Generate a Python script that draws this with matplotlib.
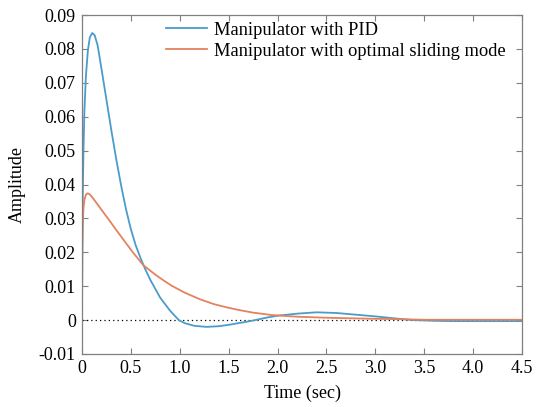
import matplotlib
matplotlib.use("Agg")
import matplotlib.pyplot as plt

plt.rcParams['font.family'] = ['Liberation Serif', 'DejaVu Serif']

# time samples (sec) and amplitudes
t_pid = [0, 0.003, 0.008, 0.015, 0.025, 0.04, 0.06, 0.08, 0.105, 0.13, 0.16, 0.2,
         0.25, 0.3, 0.35, 0.4, 0.45, 0.5, 0.55, 0.6, 0.65, 0.7, 0.8, 0.9, 0.99, 1.05,
         1.15, 1.275, 1.4, 1.5, 1.6, 1.7, 1.77, 1.9, 2.0, 2.2, 2.4, 2.6, 2.8, 3.0,
         3.2, 3.39, 3.6, 3.8, 4.0, 4.25, 4.5]
y_pid = [0, 0.02, 0.037, 0.05, 0.062, 0.072, 0.0795, 0.0834, 0.0847, 0.0840, 0.0810,
         0.0740, 0.0650, 0.0560, 0.0475, 0.0397, 0.0327, 0.0268, 0.0220, 0.0182,
         0.0148, 0.0118, 0.0066, 0.0028, 0.0, -0.0009, -0.0017, -0.0020, -0.0018,
         -0.0014, -0.0009, -0.0004, 0.0, 0.0008, 0.0013, 0.0019, 0.0023, 0.0021,
         0.0016, 0.0011, 0.0005, 0.0, -0.0002, -0.0003, -0.0003, -0.0003, -0.0003]

t_smc = [0, 0.003, 0.008, 0.015, 0.025, 0.04, 0.058, 0.075, 0.1, 0.15, 0.2, 0.27,
         0.35, 0.45, 0.52, 0.627, 0.75, 0.85, 0.92, 1.05, 1.21, 1.35, 1.46, 1.6,
         1.75, 1.94, 2.2, 2.5, 2.95, 3.2, 3.5, 3.8, 4.1, 4.5]
y_smc = [0, 0.02, 0.028, 0.033, 0.0355, 0.0370, 0.0374, 0.0372, 0.0364, 0.0345,
         0.0325, 0.0298, 0.0266, 0.0227, 0.0200, 0.0162, 0.0134, 0.0114, 0.0101,
         0.0081, 0.0061, 0.0047, 0.0039, 0.0030, 0.0022, 0.0015, 0.0010, 0.0007,
         0.0004, 0.0003, 0.0001, 0.0001, 0.0001, 0.0001]

xticks = [0, 0.5, 1.0, 1.5, 2.0, 2.5, 3.0, 3.5, 4.0, 4.5]
xticklabels = ['0', '0.5', '1.0', '1.5', '2.0', '2.5', '3.0', '3.5', '4.0', '4.5']
yticks = [-0.01, 0, 0.01, 0.02, 0.03, 0.04, 0.05, 0.06, 0.07, 0.08, 0.09]
yticklabels = ['-0.01', '0', '0.01', '0.02', '0.03', '0.04', '0.05', '0.06', '0.07',
               '0.08', '0.09']

fig = plt.figure(figsize=(5.37, 4.07), dpi=100)
ax = fig.add_axes([82/537, 53/407, 440/537, 339/407])

ax.plot([0, 4.5], [0, 0], color='black', linestyle=(0, (1, 2.5)), linewidth=0.9)
ax.plot(t_pid, y_pid, color='#4a9ccb', linewidth=1.3, label='Manipulator with PID')
ax.plot(t_smc, y_smc, color='#e3825f', linewidth=1.3,
        label='Manipulator with optimal sliding mode')

ax.set_xlim(0, 4.5)
ax.set_ylim(-0.01, 0.09)
ax.set_xticks(xticks)
ax.set_xticklabels(xticklabels)
ax.set_yticks(yticks)
ax.set_yticklabels(yticklabels)
ax.tick_params(direction='in', top=True, right=True, length=4, width=0.8,
               color='#808080', labelsize=13, labelcolor='black', pad=4.5)
for s in ax.spines.values():
    s.set_color('#808080')
    s.set_linewidth(0.9)

ax.set_xlabel('Time (sec)', fontsize=13, labelpad=5)
ax.set_ylabel('Amplitude', fontsize=13, labelpad=9)

ax.legend(loc='upper left', bbox_to_anchor=(80/440, 1.0 - 3/339), frameon=False,
          fontsize=13.3, handlelength=2.25, handletextpad=0.36, labelspacing=0.22,
          borderaxespad=0, borderpad=0.2)

fig.savefig('out.png', dpi=100)
